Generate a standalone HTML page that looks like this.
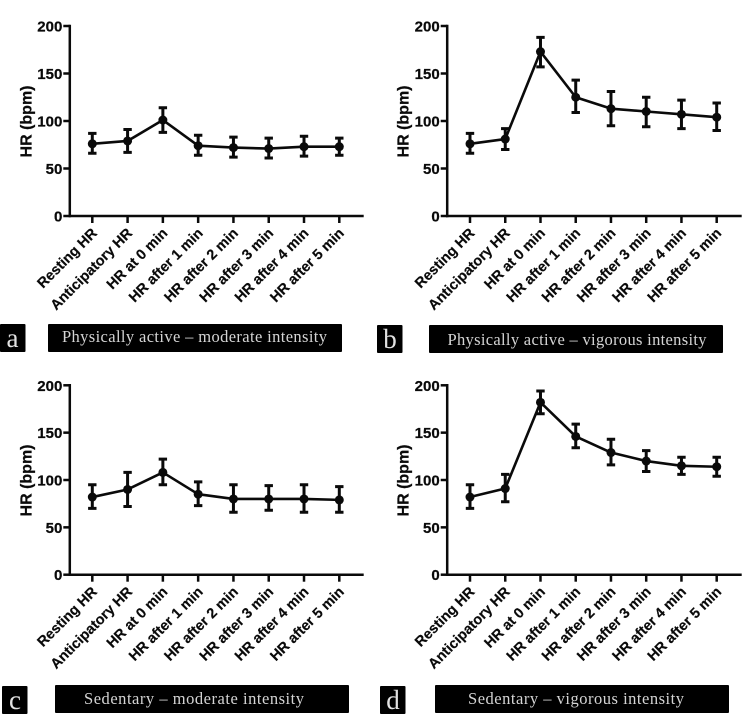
<!DOCTYPE html>
<html>
<head>
<meta charset="utf-8">
<title>Heart rate by intensity</title>
<style>
html,body{margin:0;padding:0;background:#fff;}
svg{display:block;}
.tick{font:bold 15px "Liberation Sans",sans-serif;fill:#0a0a0a;stroke:#0a0a0a;stroke-width:.25px;}
.cat{font:bold 14.4px "Liberation Sans",sans-serif;fill:#0a0a0a;stroke:#0a0a0a;stroke-width:.2px;}
.ttl{font:bold 16px "Liberation Sans",sans-serif;fill:#0a0a0a;stroke:#0a0a0a;stroke-width:.25px;}
.ban{font:16.5px "Liberation Serif",serif;fill:#d4d4d4;}
.let{font:27px "Liberation Serif",serif;fill:#e2e2e2;}
</style>
</head>
<body>
<svg id="fig" width="750" height="714" viewBox="0 0 750 714" xmlns="http://www.w3.org/2000/svg">
  <rect width="750" height="714" fill="#fff"/>

  <rect x="0" y="324" width="25.5" height="28" rx="1" fill="#000"/>
  <text class="let" x="12.5" y="347" text-anchor="middle">a</text>
  <rect x="48" y="324" width="294" height="28" rx="1" fill="#000"/>
  <text class="ban" x="62" y="342" textLength="265" lengthAdjust="spacing">Physically active – moderate intensity</text>

  <rect x="377" y="325" width="25.5" height="28" rx="1" fill="#000"/>
  <text class="let" x="390" y="348" text-anchor="middle">b</text>
  <rect x="429" y="325" width="294" height="28" rx="1" fill="#000"/>
  <text class="ban" x="447.500" y="345" textLength="259" lengthAdjust="spacing">Physically active – vigorous intensity</text>

  <rect x="2" y="686" width="25.5" height="28" rx="1" fill="#000"/>
  <text class="let" x="15" y="709" text-anchor="middle">c</text>
  <rect x="55" y="685" width="294" height="28" rx="1" fill="#000"/>
  <text class="ban" x="84" y="704" textLength="220" lengthAdjust="spacing">Sedentary – moderate intensity</text>

  <rect x="380" y="686" width="25.5" height="28" rx="1" fill="#000"/>
  <text class="let" x="393" y="709" text-anchor="middle">d</text>
  <rect x="435" y="685" width="294" height="28" rx="1" fill="#000"/>
  <text class="ban" x="468" y="704" textLength="216" lengthAdjust="spacing">Sedentary  – vigorous intensity</text>
</svg>
<script>
const categories = ["Resting HR","Anticipatory HR","HR at 0 min","HR after 1 min","HR after 2 min","HR after 3 min","HR after 4 min","HR after 5 min"];
const yTickValues = [0,50,100,150,200];
const yAxisLabel = "HR (bpm)";

const meanA  = [76,79,101,74,72,71,73,73];
const upperA = [87,91,114,85,83,82,84,82];
const lowerA = [66,67,88,64,62,61,63,64];

const meanB  = [76,81,173,125,113,110,107,104];
const upperB = [87,92,188,143,131,125,122,119];
const lowerB = [66,70,157,109,95,94,92,90];

const meanC  = [82,90,108,85,80,80,80,79];
const upperC = [95,108,122,98,95,94,95,93];
const lowerC = [70,72,95,73,66,68,66,66];

const meanD  = [82,91,182,146,129,120,115,114];
const upperD = [95,106,194,159,143,131,124,124];
const lowerD = [70,77,170,134,116,109,106,104];

const NS = "http://www.w3.org/2000/svg";
const fig = document.getElementById("fig");

function make(tag, attrs, parent) {
  const n = document.createElementNS(NS, tag);
  for (const k in attrs) n.setAttribute(k, attrs[k]);
  parent.appendChild(n);
  return n;
}

function drawPanel(id, frame, mean, upper, lower) {
  const yScale = v => frame.y0 + (frame.y200 - frame.y0) * v / 200;
  const xScale = i => frame.xFirst + (frame.xLast - frame.xFirst) * i / (categories.length - 1);

  const g = make("g", {}, fig);
  
  

  const yAxis = make("line", {x1:frame.axisX, x2:frame.axisX, y1:yScale(200)-1.3, y2:yScale(0)+1.3, stroke:"#0a0a0a","stroke-width":2.5}, g);
  
  

  const xAxis = make("line", {x1:frame.axisX-1, x2:frame.axisEnd, y1:yScale(0), y2:yScale(0), stroke:"#0a0a0a","stroke-width":2.5}, g);
  
  

  yTickValues.forEach(v => {
    const y = yScale(v);
    const t = make("line", {x1:frame.axisX-6.5, x2:frame.axisX, y1:y, y2:y, stroke:"#0a0a0a","stroke-width":2.5}, g);
    
    
    const l = make("text", {class:"tick", x:frame.axisX-7.5, y:y+5.5, "text-anchor":"end"}, g);
    
    
    l.textContent = v;
  });

  const title = make("text", {class:"ttl", transform:"translate("+(frame.axisX-38.5)+","+(yScale(100)+0.5)+") rotate(-90)", "text-anchor":"middle"}, g);
  
  
  title.textContent = yAxisLabel;

  categories.forEach((c, i) => {
    const x = xScale(i);
    const t = make("line", {x1:x, x2:x, y1:yScale(0), y2:yScale(0)+7, stroke:"#0a0a0a","stroke-width":2.5}, g);
    
    
    const l = make("text", {class:"cat", transform:"translate("+(x+5.5)+","+(yScale(0)+18)+") rotate(-45)", "text-anchor":"end"}, g);
    
    
    l.textContent = c;
  });

  const line = make("polyline", {points:mean.map((v,i)=>xScale(i)+","+yScale(v)).join(" "), fill:"none", stroke:"#0a0a0a","stroke-width":2.6,"stroke-linejoin":"round"}, g);
  
  

  mean.forEach((v, i) => {
    const x = xScale(i);
    const bar = make("path", {d:"M"+x+" "+yScale(upper[i])+"V"+yScale(lower[i])+"M"+(x-4.2)+" "+yScale(upper[i])+"H"+(x+4.2)+"M"+(x-4.2)+" "+yScale(lower[i])+"H"+(x+4.2), fill:"none", stroke:"#0a0a0a","stroke-width":3}, g);
    
    
    const p = make("circle", {cx:x, cy:yScale(v), r:4.5, fill:"#0a0a0a"}, g);
    
    
  });
}

const leftCol  = {axisX:69.8,  axisEnd:363.7, xFirst:92.3,  xLast:339.3};
const rightCol = {axisX:447.2, axisEnd:741.7, xFirst:470,   xLast:716.7};
const topRow = {y0:216, y200:26};
const botRow = {y0:574.7, y200:385.3};

drawPanel("a", Object.assign({}, leftCol, topRow), meanA, upperA, lowerA);
drawPanel("b", Object.assign({}, rightCol, topRow), meanB, upperB, lowerB);
drawPanel("c", Object.assign({}, leftCol, botRow), meanC, upperC, lowerC);
drawPanel("d", Object.assign({}, rightCol, botRow), meanD, upperD, lowerD);
</script>
</body>
</html>
